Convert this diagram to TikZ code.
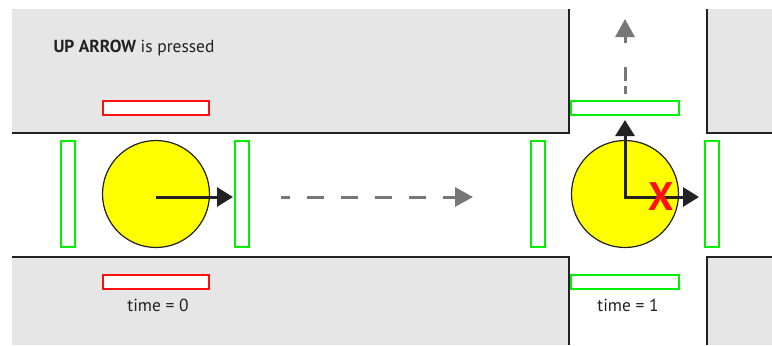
\documentclass[tikz,border=0pt]{standalone}
\usepackage{fontspec}
\setmainfont{PT Sans}
\usetikzlibrary{arrows.meta, calc}

\definecolor{wallgray}{HTML}{E6E6E6}
\definecolor{edgeblack}{HTML}{222222}
\definecolor{dashgray}{HTML}{777777}
\definecolor{sensorgreen}{HTML}{00F000}
\definecolor{sensorred}{HTML}{FF1010}
\definecolor{ballyellow}{HTML}{FFFF00}

\tikzset{
  wall/.style={fill=wallgray, draw=none},
  walledge/.style={draw=edgeblack, line width=1.4bp},
  vsensor/.style={draw=sensorgreen, line width=2bp, fill=white, minimum width=14bp, minimum height=106bp, inner sep=0pt},
  hsensor/.style={draw=#1, line width=2bp, fill=white, minimum width=106bp, minimum height=14bp, inner sep=0pt},
  ball/.style={circle, draw=edgeblack, line width=1.2bp, fill=ballyellow, minimum size=107bp, inner sep=0pt},
  move/.style={draw=edgeblack, line width=3bp, -{Triangle[length=16bp, width=19bp]}},
  plan/.style={draw=dashgray, line width=3bp, -{Triangle[length=18bp, width=19bp]}},
  caption/.style={font=\fontsize{17.5}{20}\selectfont, text=edgeblack}
}

\begin{document}
\begin{tikzpicture}[line cap=butt,line join=miter,x=1bp,y=-1bp]
\useasboundingbox (0,0) rectangle (772,345);

% walls
\fill[wall] (12,9) rectangle (569,133);
\fill[wall] (707,9) rectangle (772,133);
\fill[wall] (12,257) rectangle (569,345);
\fill[wall] (707,257) rectangle (772,345);
\draw[walledge] (12,133) -- (569,133) -- (569,9);
\draw[walledge] (707,9) -- (707,133) -- (772,133);
\draw[walledge] (12,257) -- (569,257) -- (569,345);
\draw[walledge] (707,345) -- (707,257) -- (772,257);

% sensors at time 0
\node[vsensor] (back0) at (68,194) {};
\node[vsensor] (front0) at (242,194) {};
\node[hsensor=sensorred] (up0) at (156,108) {};
\node[hsensor=sensorred] (down0) at (156,282) {};

% sensors at time 1
\node[vsensor] (back1) at (538,194) {};
\node[vsensor] (front1) at (712,194) {};
\node[hsensor=sensorgreen, minimum width=108bp] (up1) at (625,108) {};
\node[hsensor=sensorgreen, minimum width=108bp] (down1) at (625,282) {};

% balls
\node[ball] (ball0) at (156,194) {};
\node[ball] (ball1) at (625,194) {};

\coordinate (head0) at (233,197);
\coordinate (head1) at (699,197);
\coordinate (turn1) at (625,120);
\draw[move] ($(ball0.center)+(0,3)$) -- (head0);
\draw[move] ($(ball1.center)+(0,3)$) -- (head1);
\draw[move] ($(ball1.center)+(0,4.5)$) -- (turn1);

% planned path
\coordinate (go) at (281,197);
\coordinate (goend) at (473,197);
\coordinate (rise) at (625,94);
\coordinate (riseend) at (625,19);
\draw[plan, dash pattern=on 17bp off 17bp, dash phase=8bp] (go) -- (goend);
\draw[plan, dash pattern=on 8bp off 5bp on 14bp off 24bp on 12bp] (rise) -- (riseend);

% blocked move
\node[text=sensorred, font=\fontsize{40}{40}\selectfont\bfseries, inner sep=0pt] (stop) at (661,197) {X};

% labels
\node[caption, anchor=west] (title) at (50,48) {\textbf{UP ARROW} is pressed};
\node[caption] (t0) at (158,305) {time = 0};
\node[caption] (t1) at (628,305) {time = 1};
\end{tikzpicture}
\end{document}
